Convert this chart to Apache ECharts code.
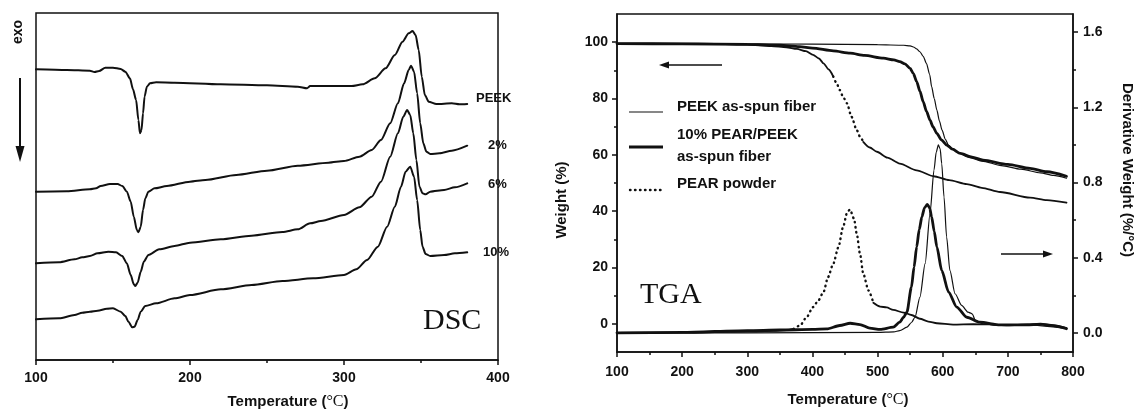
<!DOCTYPE html>
<html lang="en">

<head>
    <meta charset="UTF-8">
    <title>DSC-TGA</title>
    <style>
        html,
        body {
            margin: 0;
            padding: 0;
            background: #fff;
        }

        #main {
            width: 1137px;
            height: 412px;
        }
    </style>
    <script src="https://cdnjs.cloudflare.com/ajax/libs/echarts/6.0.0/echarts.min.js"></script>
</head>

<body>
    <div id="main"></div>
    <script>
        // DSC curves: [temperature, heat flow (a.u.)]
        const dscPeek = [[100, 87.2], [120, 87.0], [135, 86.8], [138, 86.4], [141, 86.7], [145, 87.7], [150, 87.7], [155, 87.3], [158, 86.5], [161, 84.5], [163, 81.2], [165, 78.0], [166.5, 72.0], [167.5, 68.0], [168.5, 69.0], [169.5, 74.0], [170.5, 79.0], [172, 82.0], [174, 83.0], [178, 83.3], [190, 83.2], [220, 82.7], [250, 82.4], [270, 82.0], [276, 81.5], [278, 82.2], [290, 82.2], [305, 82.2], [312, 82.7], [320, 84.5], [327, 87.5], [333, 91.5], [338, 95.5], [342, 98.0], [344.5, 98.7], [346.5, 97.5], [348.5, 93.0], [350.5, 85.0], [352.5, 79.5], [355, 77.5], [360, 76.8], [370, 77.0], [375, 76.7], [380, 76.8]];
        const dsc2 = [[100, 50.5], [120, 50.6], [135, 51.2], [139, 51.5], [142, 52.2], [148, 52.8], [153, 52.8], [156, 52.2], [159, 50.5], [161.5, 47.5], [163.5, 43.0], [165.5, 39.0], [166.5, 38.3], [168, 40.0], [169.5, 45.0], [171, 48.5], [173, 50.5], [177, 51.5], [185, 52.2], [200, 53.5], [210, 54.0], [230, 55.5], [250, 56.8], [270, 58.3], [290, 59.2], [300, 59.7], [310, 61.0], [318, 63.0], [324, 66.0], [330, 71.0], [335, 77.0], [339, 83.0], [342, 87.0], [343.5, 88.3], [345.5, 86.5], [347.5, 80.0], [349.5, 71.0], [351.5, 65.0], [353.5, 62.5], [356, 61.8], [362, 62.0], [370, 62.8], [380, 64.3]];
        const dsc6 = [[100, 29.0], [115, 29.3], [125, 30.2], [130, 30.8], [135, 31.2], [140, 32.0], [147, 32.5], [152, 32.3], [156, 31.2], [159, 29.0], [161.5, 25.5], [163.5, 22.7], [164.5, 22.2], [166, 23.2], [168, 26.5], [170, 29.5], [173, 31.5], [180, 33.2], [190, 34.2], [200, 35.2], [220, 36.2], [240, 37.3], [260, 38.4], [270, 39.2], [278, 41.0], [285, 41.7], [300, 43.5], [310, 45.8], [318, 49.0], [324, 53.5], [330, 61.0], [335, 68.0], [338.5, 73.0], [341, 75.0], [343, 73.5], [345, 68.0], [347, 60.0], [349, 52.0], [351, 50.0], [353, 49.7], [356, 50.5], [365, 51.0], [372, 51.8], [380, 53.0]];
        const dsc10 = [[100, 12.2], [115, 12.5], [125, 13.5], [130, 14.2], [135, 14.5], [140, 14.8], [146, 15.4], [150, 15.5], [155, 14.5], [158, 13.2], [160, 11.5], [162.5, 9.8], [164, 10.0], [166, 12.0], [168, 14.5], [171, 16.2], [178, 17.0], [190, 18.5], [200, 19.5], [220, 21.2], [240, 22.5], [260, 23.7], [280, 24.5], [300, 25.5], [308, 27.2], [315, 30.0], [322, 34.0], [328, 40.0], [333, 46.0], [337, 52.0], [340, 56.5], [343, 58.0], [345.5, 55.0], [347.5, 48.0], [349.5, 39.0], [351, 34.0], [353, 31.8], [356, 31.2], [365, 31.5], [372, 32.0], [380, 32.3]];

        // TGA weight (%)
        const wPeek = [[100, 99.5], [200, 99.5], [300, 99.4], [400, 99.3], [500, 99.1], [540, 98.9], [550, 98.7], [556, 98.2], [560, 97.6], [565, 96.6], [570, 95.0], [575, 92.5], [580, 88.5], [583, 84.2], [587, 80.0], [591, 75.9], [595, 72.0], [599, 68.8], [604, 65.5], [609, 63.4], [615, 62.1], [622, 61.0], [640, 59.1], [660, 57.8], [690, 56.2], [720, 54.9], [750, 53.6], [770, 52.7], [790, 51.7]];
        const wBlend = [[100, 99.5], [200, 99.4], [300, 99.2], [350, 98.9], [380, 98.4], [400, 97.9], [432, 96.9], [458, 96.1], [480, 95.3], [509, 94.3], [525, 93.7], [534, 93.1], [542, 92.3], [550, 90.7], [555, 88.8], [560, 86.0], [565, 82.6], [570, 78.9], [575, 75.5], [580.5, 72.3], [585, 70.0], [591, 67.6], [598, 65.3], [606, 63.5], [615, 62.0], [627, 60.5], [645, 59.2], [662, 58.1], [700, 56.6], [734, 55.2], [760, 54.0], [790, 52.4]];
        const wPear = [[100, 99.5], [200, 99.5], [250, 99.4], [300, 99.1], [337, 98.6], [360, 98.2], [376, 97.6], [390, 96.8], [401, 95.5], [410, 94.2], [417, 92.5], [425, 90.3], [432, 87.8], [437, 85.5], [442, 83.0], [447, 80.6], [453, 78.3], [460, 73.5], [468, 68.8], [473, 66.5], [478, 64.6], [488, 62.6], [499, 61.1], [515, 59.0], [534, 56.9], [560, 54.5], [586, 52.4], [610, 51.0], [637, 49.6], [660, 48.3], [688, 46.8], [734, 44.8], [760, 43.9], [790, 43.0]];

        // TGA derivative weight (%/°C)
        const dPeek = [[100, 0.0], [300, 0.0], [500, 0.002], [525, 0.005], [534, 0.012], [545, 0.03], [552, 0.055], [557.5, 0.083], [565, 0.19], [573, 0.368], [580.5, 0.635], [586.6, 0.866], [590, 0.96], [593.3, 1.0], [596, 0.98], [598.5, 0.9], [602, 0.723], [606, 0.51], [611, 0.332], [619, 0.208], [629, 0.146], [639, 0.11], [643, 0.105], [645.5, 0.1], [650, 0.066], [662, 0.048], [690, 0.04], [730, 0.042], [790, 0.022]];
        const dBlend = [[100, 0.0], [200, 0.002], [300, 0.012], [350, 0.015], [400, 0.018], [422, 0.021], [442, 0.039], [458, 0.051], [473, 0.044], [488, 0.025], [504, 0.018], [524, 0.03], [534, 0.057], [540, 0.083], [545, 0.11], [552, 0.243], [556, 0.35], [560, 0.457], [564, 0.55], [568, 0.617], [572, 0.665], [576.4, 0.684], [580, 0.665], [583, 0.617], [587, 0.54], [591, 0.457], [598.5, 0.332], [609, 0.217], [621.5, 0.137], [637, 0.083], [657, 0.057], [688, 0.042], [729, 0.042], [750, 0.046], [770, 0.038], [790, 0.022]];
        const dPear = [[100, 0.0], [200, 0.002], [300, 0.006], [340, 0.01], [360, 0.014], [371, 0.021], [381, 0.039], [391, 0.083], [401, 0.137], [409, 0.172], [417, 0.217], [424, 0.297], [432, 0.368], [440, 0.457], [447, 0.563], [453.5, 0.643], [457.7, 0.656], [463.8, 0.608], [468, 0.528], [473, 0.421], [478, 0.315], [486, 0.226], [493.5, 0.16], [504, 0.14], [514, 0.135], [524, 0.122], [540, 0.108], [552, 0.095], [565, 0.075], [578, 0.06], [591, 0.051], [616, 0.044], [647, 0.046], [670, 0.045], [700, 0.04], [730, 0.045], [750, 0.048], [770, 0.04], [790, 0.025]];

        const weightTicks = [0, 20, 40, 60, 80, 100];
        const weightMinor = [10, 30, 50, 70, 90];
        const derivTicks = [0, 0.4, 0.8, 1.2, 1.6];
        const derivMinor = [0.2, 0.6, 1.0, 1.4];

        const ink = '#111';
        const sans = 'Liberation Sans';
        const serif = 'Liberation Serif';

        // PEAR powder is drawn dotted only over its steep part
        function part(data, lo, hi) {
            return data.filter(p => p[0] >= lo && p[0] <= hi);
        }

        const chart = echarts.init(document.getElementById('main'));

        function line(data, xi, yi, width, type) {
            return {
                type: 'line',
                xAxisIndex: xi,
                yAxisIndex: yi,
                data: data,
                symbol: 'none',
                smooth: 0.25,
                smoothMonotone: 'x',
                silent: true,
                lineStyle: { color: ink, width: width, type: type || 'solid', cap: 'round' }
            };
        }

        const tickFont = { color: ink, fontSize: 14, fontWeight: 'bold', fontFamily: sans };
        const axisLine = { show: true, onZero: false, lineStyle: { color: ink, width: 1.5 } };
        const dots = [0.5, 4.5];

        function txt(x, y, text, size, opts) {
            return Object.assign({
                type: 'text',
                x: x,
                y: y,
                style: {
                    text: text,
                    fill: ink,
                    font: 'bold ' + size + 'px "' + sans + '"',
                    textVerticalAlign: 'middle'
                }
            }, opts || {});
        }

        const tempRich = {
            b: { fontFamily: sans, fontWeight: 'bold', fontSize: 15, fill: ink, color: ink },
            s: { fontFamily: serif, fontSize: 16, fill: ink, color: ink }
        };

        const option = {
            animation: false,
            grid: [
                { left: 36, top: 13, width: 462, height: 347, show: true, borderColor: ink, borderWidth: 1.5 },
                { left: 617, top: 14, width: 456, height: 338, show: true, borderColor: ink, borderWidth: 1.5 }
            ],
            xAxis: [
                {
                    gridIndex: 0, type: 'value', min: 100, max: 400, interval: 100,
                    axisLine: axisLine, splitLine: { show: false },
                    axisTick: { length: 5, lineStyle: { color: ink, width: 1.5 } },
                    minorTick: { show: true, splitNumber: 2, length: 3, lineStyle: { color: ink, width: 1.5 } },
                    axisLabel: Object.assign({ margin: 11 }, tickFont)
                },
                {
                    gridIndex: 1, type: 'value', min: 100, max: 800, interval: 100,
                    axisLine: axisLine, splitLine: { show: false },
                    axisTick: { length: 5, lineStyle: { color: ink, width: 1.5 } },
                    minorTick: { show: true, splitNumber: 2, length: 3, lineStyle: { color: ink, width: 1.5 } },
                    axisLabel: Object.assign({ margin: 13 }, tickFont)
                }
            ],
            yAxis: [
                { gridIndex: 0, type: 'value', min: 0, max: 104.1, show: false },
                {
                    gridIndex: 1, type: 'value', min: -10, max: 110, position: 'left',
                    axisLine: axisLine, splitLine: { show: false },
                    axisTick: { length: 5, customValues: weightTicks, lineStyle: { color: ink, width: 1.5 } },
                    axisLabel: Object.assign({ margin: 9, customValues: weightTicks }, tickFont)
                },
                {
                    gridIndex: 1, type: 'value', min: -10, max: 110, position: 'left',
                    axisLine: { show: false, onZero: false }, splitLine: { show: false },
                    axisTick: { show: true, length: 3, customValues: weightMinor, lineStyle: { color: ink, width: 1.5 } },
                    axisLabel: { show: false }
                },
                {
                    gridIndex: 1, type: 'value', min: -0.102, max: 1.697, position: 'right',
                    axisLine: axisLine, splitLine: { show: false },
                    axisTick: { length: 5, customValues: derivTicks, lineStyle: { color: ink, width: 1.5 } },
                    axisLabel: Object.assign({ margin: 10, customValues: derivTicks, formatter: v => v.toFixed(1) }, tickFont)
                },
                {
                    gridIndex: 1, type: 'value', min: -0.102, max: 1.697, position: 'right',
                    axisLine: { show: false, onZero: false }, splitLine: { show: false },
                    axisTick: { show: true, length: 3, customValues: derivMinor, lineStyle: { color: ink, width: 1.5 } },
                    axisLabel: { show: false }
                }
            ],
            series: [
                line(dscPeek, 0, 0, 2),
                line(dsc2, 0, 0, 2),
                line(dsc6, 0, 0, 2),
                line(dsc10, 0, 0, 2),

                line(wPeek, 1, 1, 1.2),
                line(wBlend, 1, 1, 2.8),
                line(part(wPear, 0, 432), 1, 1, 1.8),
                line(part(wPear, 432, 478), 1, 1, 2.4, dots),
                line(part(wPear, 478, 800), 1, 1, 1.8),

                line(dPeek, 1, 3, 1.2),
                line(dBlend, 1, 3, 2.8),
                line(part(dPear, 0, 371), 1, 3, 1.8),
                line(part(dPear, 371, 493.5), 1, 3, 2.4, dots),
                line(part(dPear, 493.5, 800), 1, 3, 1.8)
            ],
            graphic: [
                // left panel annotations
                {
                    type: 'text', x: 18, y: 32, rotation: Math.PI / 2,
                    style: { text: 'exo', fill: ink, font: 'bold 14px "' + sans + '"', textAlign: 'center', textVerticalAlign: 'middle' }
                },
                { type: 'line', shape: { x1: 20, y1: 78, x2: 20, y2: 150 }, style: { stroke: ink, lineWidth: 2 } },
                { type: 'polygon', shape: { points: [[15.5, 146], [24.5, 146], [20, 162]] }, style: { fill: ink } },
                txt(476, 98, 'PEEK', 13),
                txt(488, 145, '2%', 13),
                txt(488, 184, '6%', 13),
                txt(483, 252, '10%', 13),
                {
                    type: 'text', x: 423, y: 321,
                    style: { text: 'DSC', fill: ink, font: '30px "' + serif + '"', textVerticalAlign: 'middle' }
                },
                {
                    type: 'text', x: 288, y: 402,
                    style: { text: '{b|Temperature (}{s|°C}{b|)}', rich: tempRich, textAlign: 'center', textVerticalAlign: 'middle' }
                },

                // right panel annotations
                {
                    type: 'text', x: 562, y: 200, rotation: Math.PI / 2,
                    style: { text: 'Weight (%)', fill: ink, font: 'bold 15px "' + sans + '"', textAlign: 'center', textVerticalAlign: 'middle' }
                },
                {
                    type: 'text', x: 1127, y: 170, rotation: -Math.PI / 2,
                    style: { text: 'Derivative Weight (%/°C)', fill: ink, font: 'bold 15px "' + sans + '"', textAlign: 'center', textVerticalAlign: 'middle' }
                },
                {
                    type: 'text', x: 848, y: 400,
                    style: { text: '{b|Temperature (}{s|°C}{b|)}', rich: tempRich, textAlign: 'center', textVerticalAlign: 'middle' }
                },
                {
                    type: 'text', x: 640, y: 295,
                    style: { text: 'TGA', fill: ink, font: '30px "' + serif + '"', textVerticalAlign: 'middle' }
                },
                { type: 'line', shape: { x1: 664, y1: 65, x2: 722, y2: 65 }, style: { stroke: ink, lineWidth: 1.5 } },
                { type: 'polygon', shape: { points: [[659, 65], [669, 61.5], [669, 68.5]] }, style: { fill: ink } },
                { type: 'line', shape: { x1: 1001, y1: 254, x2: 1048, y2: 254 }, style: { stroke: ink, lineWidth: 1.5 } },
                { type: 'polygon', shape: { points: [[1053, 254], [1043, 250.5], [1043, 257.5]] }, style: { fill: ink } },

                // legend
                { type: 'line', shape: { x1: 629, y1: 112, x2: 663, y2: 112 }, style: { stroke: ink, lineWidth: 1.2 } },
                { type: 'line', shape: { x1: 629, y1: 147, x2: 663, y2: 147 }, style: { stroke: ink, lineWidth: 3 } },
                { type: 'line', shape: { x1: 630, y1: 190, x2: 663, y2: 190 }, style: { stroke: ink, lineWidth: 2.4, lineDash: dots, lineCap: 'round' } },
                txt(677, 107, 'PEEK as-spun fiber', 15),
                txt(677, 135, '10% PEAR/PEEK', 15),
                txt(677, 157, 'as-spun fiber', 15),
                txt(677, 184, 'PEAR powder', 15)
            ]
        };

        chart.setOption(option);
    </script>
</body>

</html>
